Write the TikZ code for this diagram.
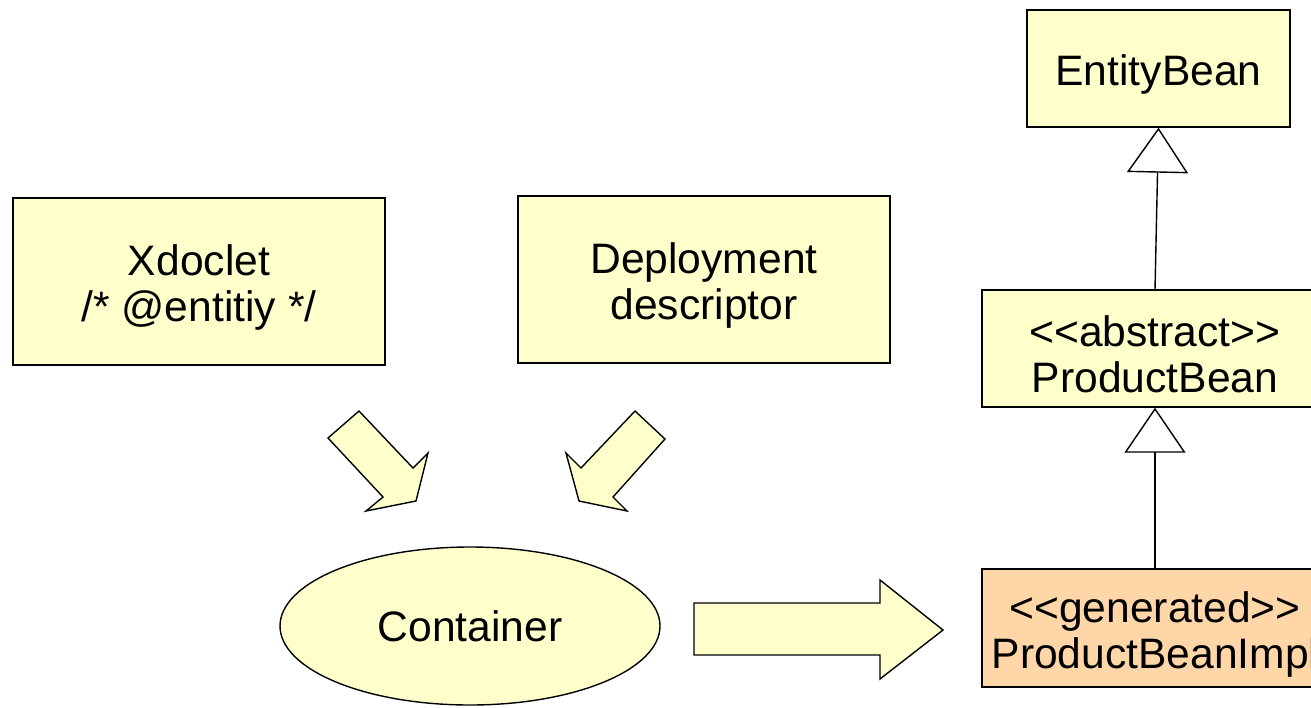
\documentclass[tikz,border=0pt]{standalone}
\usepackage{fontspec}
\setmainfont{Liberation Sans}
\usetikzlibrary{shapes.geometric, arrows.meta}

\definecolor{beanyellow}{HTML}{FFFFCC}
\definecolor{beanorange}{HTML}{FFD6A8}
\newcommand{\stereo}[1]{<{}<#1>{}>}
\newcommand{\firstline}{\rule{0pt}{21.5pt}}

\begin{document}
\begin{tikzpicture}[x=0.5pt, y=-0.5pt,
    box/.style={draw, line width=0.7pt, fill=beanyellow, align=center, inner sep=0pt},
    blockarrow/.style={draw, line width=0.7pt, fill=beanyellow, line join=miter},
    inherits/.style={line width=0.7pt, -{Triangle[open, length=22.5pt, width=30.5pt, line width=0.7pt]}},
    every node/.style={font=\fontsize{21.3}{23}\selectfont}]
        % Frame
        \clip (0,0) rectangle (1311,707);
        \fill[white] (0,0) rectangle (1311,707);

        % Inputs
        \node[box, minimum width=186pt, minimum height=83.5pt] (xdoclet) at (199,281.5) {\firstline Xdoclet\\/* @entitiy */};
        \node[box, minimum width=186pt, minimum height=83.5pt] (dd) at (704,279.5) {\firstline Deployment\\descriptor};

        % Container
        \node[box, ellipse, minimum width=190pt, minimum height=79pt] (container) at (470,626) {Container};

        % Block arrows
        \draw[blockarrow] (328,438) -- (359,411) -- (413,468) -- (428,453) -- (416,501) -- (366,511) -- (383,497) -- cycle;
        \draw[blockarrow] (665,439) -- (635,411) -- (581,468) -- (566,453) -- (579,501) -- (627,511) -- (613,497) -- cycle;
        \draw[blockarrow] (694,603) -- (880,603) -- (880,580) -- (943,630) -- (880,679) -- (880,655) -- (694,655) -- cycle;

        % Class hierarchy
        \node[box, minimum width=131.5pt, minimum height=58.5pt] (entity) at (1158.5,68.5) {\firstline EntityBean};
        \node[box, minimum width=173pt, minimum height=58.5pt] (bean) at (1155,348.5) {\firstline\stereo{abstract}\\ProductBean};
        \node[box, fill=beanorange, minimum width=173pt, minimum height=59pt] (impl) at (1155,628) {\firstline\stereo{generated}\\ProductBeanImpl};

        \draw[inherits] (bean.north) -- (entity.south);
        \draw[inherits] (impl.north) -- (bean.south);
    \end{tikzpicture}
\end{document}
